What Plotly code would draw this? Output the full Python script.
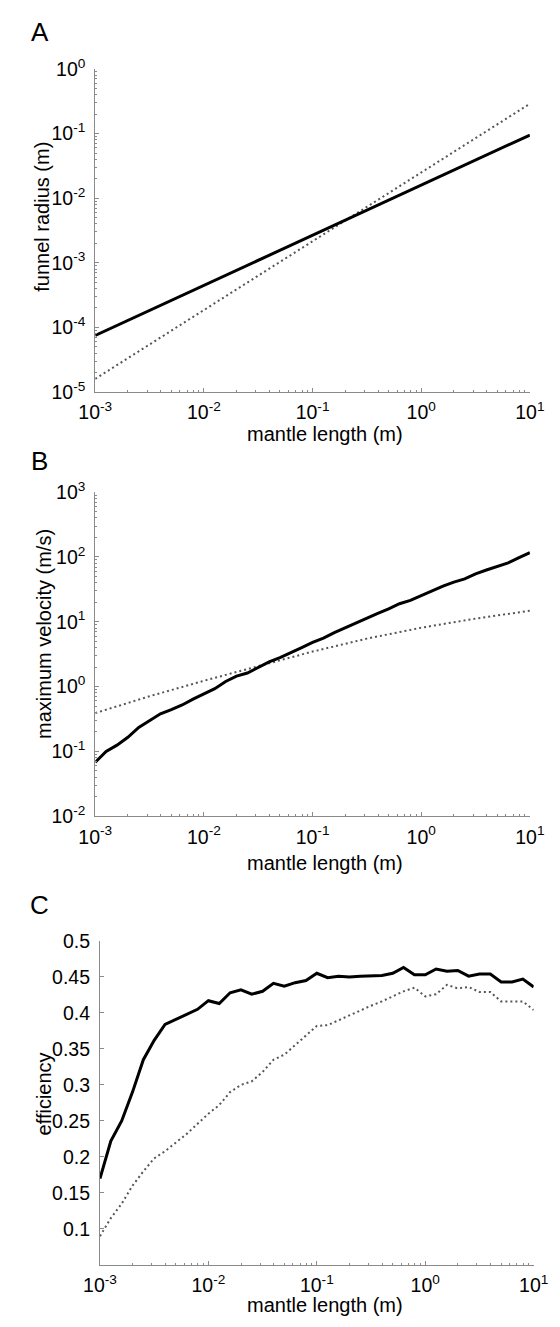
import plotly.graph_objects as go

# ---------------- data ----------------
# Panel A: funnel radius vs mantle length (power laws read at decade points)
a_x = [0.001, 0.01, 0.1, 1.0, 10.0]
a_solid = [7.5e-5, 4.5e-4, 2.7e-3, 1.6e-2, 0.095]
a_dotted = [1.6e-5, 1.85e-4, 2.15e-3, 2.5e-2, 0.29]

# shared 0.1-decade grid for panels B and C
mantle_length = [0.001, 0.001259, 0.001585, 0.001995, 0.002512, 0.003162, 0.003981,
                 0.005012, 0.00631, 0.007943, 0.01, 0.01259, 0.01585, 0.01995,
                 0.02512, 0.03162, 0.03981, 0.05012, 0.0631, 0.07943, 0.1,
                 0.1259, 0.1585, 0.1995, 0.2512, 0.3162, 0.3981, 0.5012, 0.631,
                 0.7943, 1.0, 1.259, 1.585, 1.995, 2.512, 3.162, 3.981, 5.012,
                 6.31, 7.943, 10.0]

# Panel B: maximum velocity
b_solid = [0.068, 0.10, 0.125, 0.165, 0.235, 0.30, 0.38, 0.44, 0.52, 0.64, 0.78,
           0.93, 1.2, 1.45, 1.62, 1.95, 2.4, 2.8, 3.3, 4.0, 4.8, 5.6, 6.8, 8.1,
           9.6, 11.5, 13.5, 15.8, 19.0, 21.4, 25.0, 30.0, 35.5, 41.0, 46.0, 55.0,
           63.0, 71.0, 81.0, 98.0, 117.0]
b_dot_x = [0.001, 0.003162, 0.01, 0.03162, 0.1, 0.3162, 1.0, 3.162, 10.0]
b_dotted = [0.39, 0.71, 1.23, 2.09, 3.47, 5.5, 8.1, 11.2, 14.8]

# Panel C: efficiency
c_solid = [0.170, 0.222, 0.250, 0.290, 0.335, 0.362, 0.384, 0.391, 0.399, 0.405,
           0.417, 0.413, 0.428, 0.432, 0.426, 0.430, 0.441, 0.437, 0.442, 0.445,
           0.455, 0.449, 0.451, 0.450, 0.451, 0.452, 0.452, 0.455, 0.463, 0.453,
           0.453, 0.461, 0.458, 0.459, 0.451, 0.454, 0.454, 0.443, 0.443, 0.447,
           0.436]
c_dotted = [0.090, 0.115, 0.135, 0.160, 0.180, 0.198, 0.208, 0.220, 0.232, 0.246,
            0.260, 0.272, 0.290, 0.300, 0.305, 0.318, 0.335, 0.342, 0.355, 0.368,
            0.382, 0.383, 0.390, 0.396, 0.403, 0.410, 0.416, 0.423, 0.430, 0.435,
            0.423, 0.426, 0.439, 0.434, 0.436, 0.429, 0.429, 0.416, 0.416, 0.416,
            0.404]

x_tick_exp = [-3, -2, -1, 0, 1]
a_y_exp = [-5, -4, -3, -2, -1, 0]
b_y_exp = [-2, -1, 0, 1, 2, 3]
c_y_ticks = [0.1, 0.15, 0.2, 0.25, 0.3, 0.35, 0.4, 0.45, 0.5]
c_y_labels = ["0.1", "0.15", "0.2", "0.25", "0.3", "0.35", "0.4", "0.45", "0.5"]

# ---------------- styling ----------------
W, H = 560, 1327
FONT = "Liberation Sans, Arial, Helvetica, sans-serif"
AXCOL = "#8a8a8a"
TICKSIZE = 19.5
TITLESIZE = 20
SOLID = dict(color="black", width=3)
DOTTED = dict(color="#555555", width=2, dash="2px,3px")


def pow_labels(exps):
    return [10.0 ** e for e in exps], ["10<sup>%d</sup>" % e for e in exps]


def minor_vals(exps):
    return [k * 10.0 ** e for e in exps[:-1] for k in range(2, 10)]


def px_x(p):
    return p / W


def px_y(p):
    return 1 - p / H


def log_axis(exps, domain, anchor, standoff):
    tv, tt = pow_labels(exps)
    return dict(type="log", domain=domain, anchor=anchor,
                range=[exps[0], exps[-1]], tickmode="array", tickvals=tv, ticktext=tt,
                ticks="inside", ticklen=4, tickcolor=AXCOL, tickwidth=1,
                showline=True, linecolor=AXCOL, linewidth=1, showgrid=False,
                zeroline=False, ticklabelstandoff=standoff,
                tickfont=dict(family=FONT, size=TICKSIZE, color="black"),
                minor=dict(tickmode="array", tickvals=minor_vals(exps), ticks="inside",
                           ticklen=2, tickcolor=AXCOL, tickwidth=1, showgrid=False))


fig = go.Figure()
fig.add_trace(go.Scatter(x=a_x, y=a_dotted, mode="lines", line=DOTTED, xaxis="x", yaxis="y"))
fig.add_trace(go.Scatter(x=a_x, y=a_solid, mode="lines", line=SOLID, xaxis="x", yaxis="y"))
fig.add_trace(go.Scatter(x=b_dot_x, y=b_dotted, mode="lines", line=DOTTED, xaxis="x2", yaxis="y2"))
fig.add_trace(go.Scatter(x=mantle_length, y=b_solid, mode="lines", line=SOLID, xaxis="x2", yaxis="y2"))
fig.add_trace(go.Scatter(x=mantle_length, y=c_dotted, mode="lines", line=DOTTED, xaxis="x3", yaxis="y3"))
fig.add_trace(go.Scatter(x=mantle_length, y=c_solid, mode="lines", line=SOLID, xaxis="x3", yaxis="y3"))

# pixel layout of the three panels
A_X, A_Y = [83, 544], [57, 386]
B_X, B_Y = [83, 544], [488, 818]
C_X, C_Y = [88, 548], [945, 1275]


def xdom(p):
    return [px_x(p[0]), px_x(p[1])]


def ydom(p):
    return [px_y(p[1]), px_y(p[0])]


c_y = dict(domain=ydom(C_Y), anchor="x3", range=[0.05, 0.5], tickmode="array",
           tickvals=c_y_ticks, ticktext=c_y_labels, ticks="inside", ticklen=4,
           tickcolor=AXCOL, showline=True, linecolor=AXCOL, linewidth=1,
           showgrid=False, zeroline=False, ticklabelstandoff=5,
           tickfont=dict(family=FONT, size=TICKSIZE, color="black"))

fig.update_layout(
    width=W, height=H, margin=dict(l=0, r=0, t=0, b=0),
    paper_bgcolor="white", plot_bgcolor="white", showlegend=False,
    font=dict(family=FONT, color="black"),
    xaxis=log_axis(x_tick_exp, xdom(A_X), "y", 3),
    yaxis=log_axis(a_y_exp, ydom(A_Y), "x", 5),
    xaxis2=log_axis(x_tick_exp, xdom(B_X), "y2", 3),
    yaxis2=log_axis(b_y_exp, ydom(B_Y), "x2", 5),
    xaxis3=log_axis(x_tick_exp, xdom(C_X), "y3", 3),
    yaxis3=c_y,
)

ann = []


def text(s, x, y, size, angle=0):
    ann.append(dict(text=s, x=px_x(x), y=px_y(y), xref="paper", yref="paper",
                    showarrow=False, xanchor="center", yanchor="middle",
                    textangle=angle, font=dict(family=FONT, size=size, color="black")))


text("A", 24, 19, 26)
text("B", 24, 456, 26)
text("C", 24, 908, 26)
text("mantle length (m)", 327, 429, TITLESIZE)
text("mantle length (m)", 327, 866, TITLESIZE)
text("mantle length (m)", 327, 1316, TITLESIZE)
text("funnel radius (m)", 27, 207, TITLESIZE, -90)
text("maximum velocity (m/s)", 28, 632, TITLESIZE, -90)
text("efficiency", 29, 1101, TITLESIZE, -90)
fig.update_layout(annotations=ann)

fig.write_html("out.html")
